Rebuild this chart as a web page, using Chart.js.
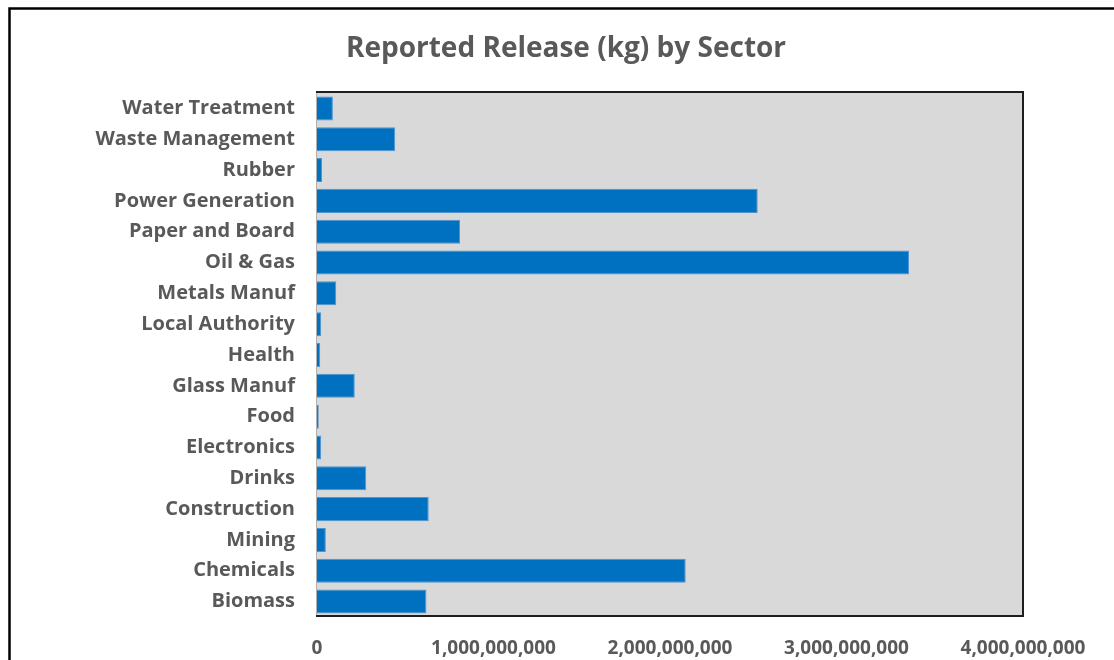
<!DOCTYPE html>
<html>
<head>
<meta charset="utf-8">
<script src="https://cdn.jsdelivr.net/npm/chart.js@4/dist/chart.umd.min.js"></script>
<style>
html,body{margin:0;padding:0;background:#fff;}
#wrap{width:1114px;height:660px;position:relative;}
</style>
</head>
<body>
<div id="wrap"><canvas id="c" width="1114" height="660"></canvas></div>
<script>
const sectors = ["Water Treatment","Waste Management","Rubber","Power Generation","Paper and Board","Oil & Gas","Metals Manuf","Local Authority","Health","Glass Manuf","Food","Electronics","Drinks","Construction","Mining","Chemicals","Biomass"];
const releases = [90000000,443000000,29000000,2497000000,811000000,3354000000,109000000,24000000,18000000,214000000,10000000,24000000,279000000,633000000,50000000,2089000000,620000000];
const xTicks = [0,1000000000,2000000000,3000000000,4000000000];
const titleText = "Reported Release (kg) by Sector";

const PLOT = {left:317, right:1023, top:93, bottom:617};
const FONT = '"Open Sans", "Noto Sans", sans-serif';

const framePlugin = {
  id:'frame',
  beforeDraw(chart){
    const ctx = chart.ctx;
    ctx.save();
    ctx.fillStyle = '#fff';
    ctx.fillRect(0,0,chart.width,chart.height);
    ctx.strokeStyle = '#000';
    ctx.lineWidth = 2.5;
    ctx.beginPath();
    ctx.moveTo(9.5, chart.height+5);
    ctx.lineTo(9.5, 8.5);
    ctx.lineTo(chart.width+5, 8.5);
    ctx.stroke();
    const a = chart.chartArea;
    ctx.fillStyle = '#D9D9D9';
    ctx.fillRect(a.left-1, a.top, a.right-a.left+1, a.bottom-a.top);
    ctx.fillStyle = '#595959';
    ctx.font = 'bold 28px ' + FONT;
    ctx.textAlign = 'center';
    ctx.textBaseline = 'middle';
    ctx.fillText(titleText, 566, 49);
    ctx.restore();
  },
  afterDatasetsDraw(chart){
    const ctx = chart.ctx;
    const a = chart.chartArea;
    ctx.save();
    ctx.strokeStyle = '#B0B0B0';
    ctx.lineWidth = 1;
    ctx.beginPath();
    ctx.moveTo(a.left-0.5, a.top);
    ctx.lineTo(a.left-0.5, a.bottom);
    ctx.stroke();
    ctx.strokeStyle = '#1e1e1e';
    ctx.lineWidth = 2;
    ctx.beginPath();
    ctx.moveTo(a.left-1, a.top-1);
    ctx.lineTo(a.right, a.top-1);
    ctx.lineTo(a.right, a.bottom-1);
    ctx.lineTo(a.left-1, a.bottom-1);
    ctx.stroke();
    ctx.restore();
  }
};

new Chart(document.getElementById('c'), {
  type:'bar',
  data:{
    labels:sectors,
    datasets:[{
      data:releases,
      backgroundColor:'#0070C0',
      borderColor:'#4F93D2',
      borderWidth:1,
      barPercentage:0.78,
      categoryPercentage:1.0
    }]
  },
  options:{
    indexAxis:'y',
    responsive:false,
    animation:false,
    layout:{padding:{left:0,right:1114-PLOT.right,top:PLOT.top,bottom:0}},
    plugins:{
      legend:{display:false},
      tooltip:{enabled:false},
      title:{display:false}
    },
    scales:{
      x:{
        type:'linear',
        min:0,max:4000000000,
        afterBuildTicks(scale){ scale.ticks = xTicks.map(v=>({value:v})); },
        grid:{display:false,drawTicks:false},
        border:{display:false},
        ticks:{
          color:'#595959',
          padding:20,
          maxRotation:0,
          font:{family:FONT,size:19,weight:'bold'},
          callback:(v)=>Number(v).toLocaleString('en-US')
        },
        afterFit(scale){ scale.height = 660-PLOT.bottom; }
      },
      y:{
        grid:{display:false,drawTicks:false},
        border:{display:false},
        ticks:{
          color:'#595959',
          padding:22,
          autoSkip:false,
          font:{family:FONT,size:20,weight:'bold'}
        },
        afterFit(scale){ scale.width = PLOT.left; }
      }
    }
  },
  plugins:[framePlugin]
});
</script>
</body>
</html>
